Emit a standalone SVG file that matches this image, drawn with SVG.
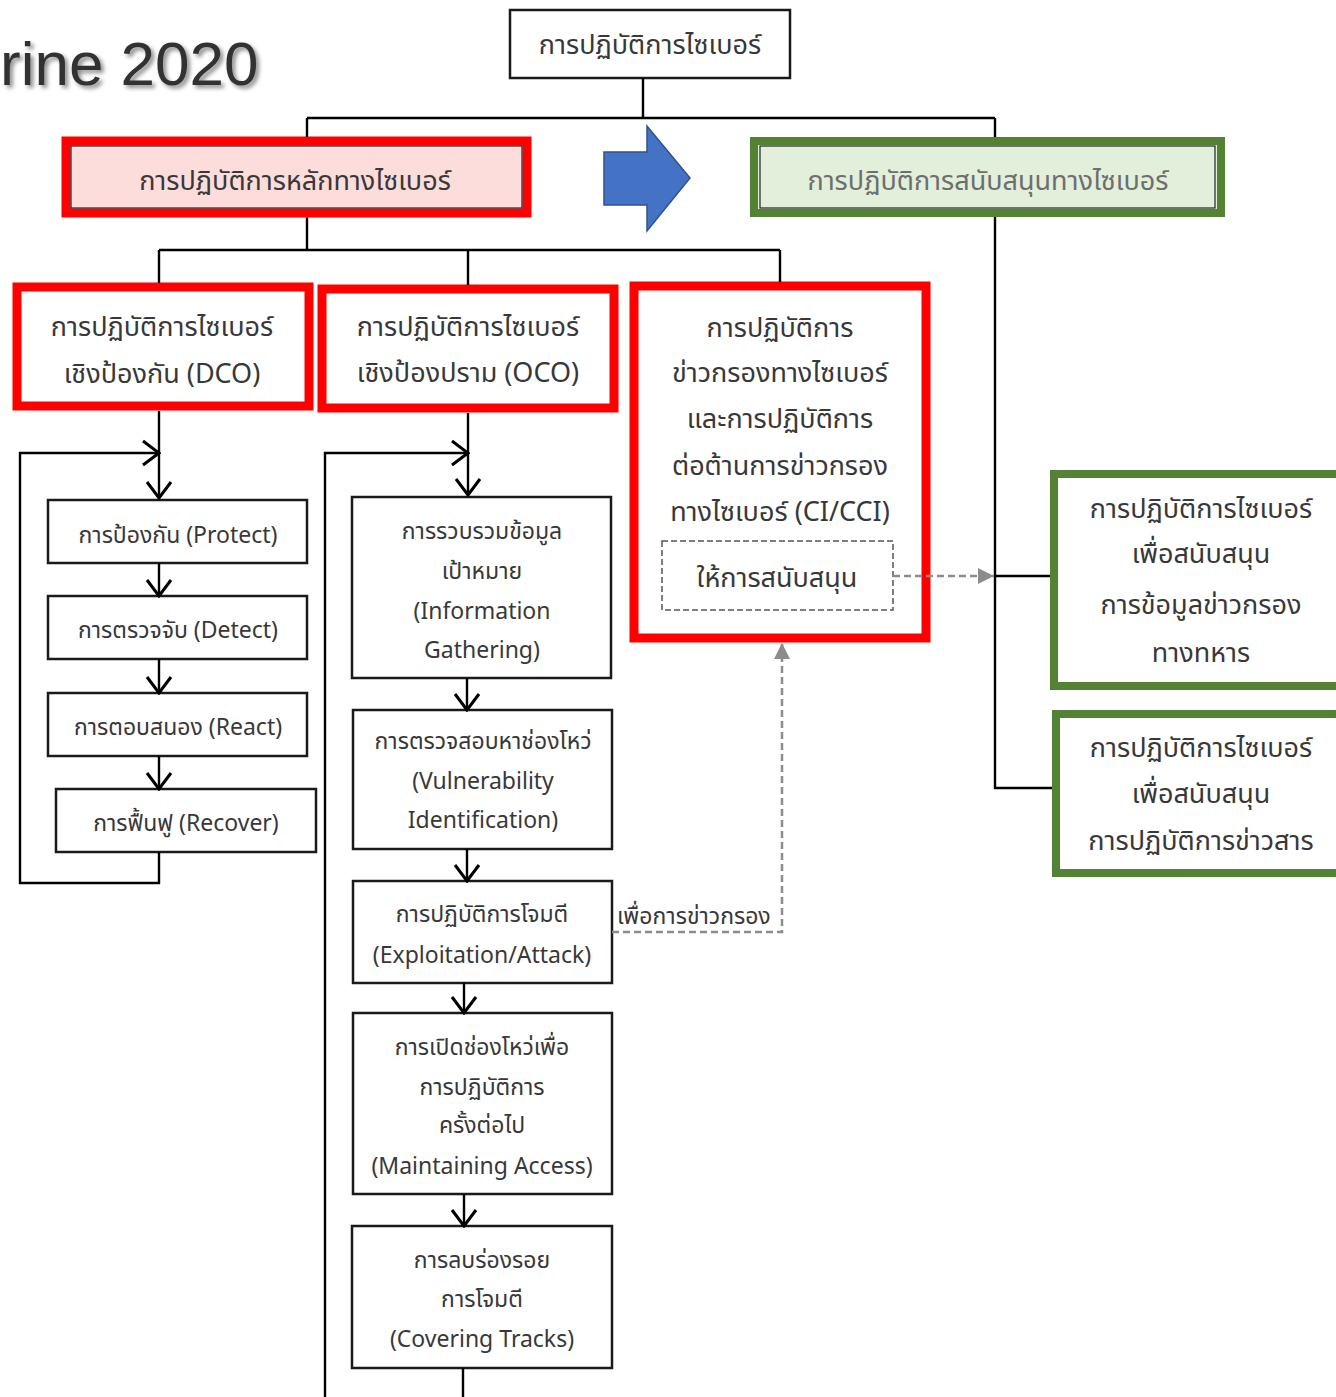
<svg xmlns="http://www.w3.org/2000/svg" width="1336" height="1397" viewBox="0 0 1336 1397">
  <defs>
    <marker id="open" viewBox="0 0 20 28" refX="18" refY="14" markerWidth="20" markerHeight="28" markerUnits="userSpaceOnUse" orient="auto">
      <path d="M2,2 L18,14 L2,26" fill="none" stroke="#000" stroke-width="3"/>
    </marker>
    <marker id="grayTri" viewBox="0 0 16 16" refX="16" refY="8" markerWidth="16" markerHeight="16" markerUnits="userSpaceOnUse" orient="auto">
      <path d="M0,0 L16,8 L0,16 Z" fill="#8c8c8c"/>
    </marker>
    <filter id="shadow" x="-10%" y="-20%" width="130%" height="150%">
      <feDropShadow dx="3" dy="3" stdDeviation="2" flood-color="#000" flood-opacity="0.45"/>
    </filter>
  </defs>
  <style>
    .t { font-family: "Noto Sans Thai", "Noto Sans", "DejaVu Sans", sans-serif; fill: #383838; text-anchor: middle; }
    .big { font-size: 27px; }
    .mid { font-size: 23px; }
    .box { fill: #fff; stroke: #1a1a1a; stroke-width: 2.5; }
    .redframe { fill: none; stroke: #ff0000; stroke-width: 9; }
    .thin { fill: none; stroke: #222; stroke-width: 1.2; }
    .line { fill: none; stroke: #000; stroke-width: 2.4; }
    .dash { fill: none; stroke: #8c8c8c; stroke-width: 2.5; stroke-dasharray: 7 4; }
  </style>

  <rect width="1336" height="1397" fill="#fff"/>

  <!-- heading fragment -->
  <text x="0" y="85" font-family="Liberation Sans, Arial, sans-serif" font-size="62" fill="#333" filter="url(#shadow)">rine 2020</text>

  <!-- root -->
  <g id="cyber-ops">
    <rect class="box" x="510" y="10" width="280" height="68"/>
    <text class="t big" x="650" y="54">การปฏิบัติการไซเบอร์</text>
  </g>

  <!-- core operations -->
  <g id="core-ops">
    <rect x="66" y="141" width="461" height="72" fill="#fddcdc" stroke="#ff0000" stroke-width="9"/>
    <rect class="thin" x="71" y="146" width="451" height="62"/>
    <text class="t big" x="295" y="190">การปฏิบัติการหลักทางไซเบอร์</text>
  </g>

  <!-- block arrow -->
  <g id="flow-arrow">
    <path d="M604,152 H647 V126 L690,178 L647,231 V205 H604 Z" fill="#4472c4" stroke="#2f528f" stroke-width="1.5"/>
  </g>

  <!-- support operations -->
  <g id="support-ops">
    <rect x="754" y="141" width="467" height="72" fill="#e2efda" stroke="#548235" stroke-width="8"/>
    <rect class="thin" x="760" y="146" width="455" height="62"/>
    <text class="t big" x="988" y="190" style="fill:#6e6e6e">การปฏิบัติการสนับสนุนทางไซเบอร์</text>
  </g>

  <!-- DCO -->
  <g id="dco">
    <rect class="box" x="18" y="288" width="290" height="117"/>
    <rect class="redframe" x="17" y="287" width="292" height="119"/>
    <text class="t big" x="162" y="336">การปฏิบัติการไซเบอร์</text>
    <text class="t big" x="162" y="383">เชิงป้องกัน (DCO)</text>
  </g>

  <!-- OCO -->
  <g id="oco">
    <rect class="box" x="323" y="290" width="290" height="117"/>
    <rect class="redframe" x="322" y="289" width="292" height="119"/>
    <text class="t big" x="468" y="336">การปฏิบัติการไซเบอร์</text>
    <text class="t big" x="468" y="382">เชิงป้องปราม (OCO)</text>
  </g>

  <!-- CI/CCI -->
  <g id="ci-cci">
    <rect class="box" x="635" y="287" width="290" height="350"/>
    <rect class="redframe" x="634" y="286" width="292" height="352"/>
    <text class="t big" x="780" y="337">การปฏิบัติการ</text>
    <text class="t big" x="780" y="382">ข่าวกรองทางไซเบอร์</text>
    <text class="t big" x="780" y="428">และการปฏิบัติการ</text>
    <text class="t big" x="780" y="475">ต่อต้านการข่าวกรอง</text>
    <text class="t big" x="780" y="521">ทางไซเบอร์ (CI/CCI)</text>
    <rect x="662" y="541" width="231" height="69" fill="none" stroke="#555" stroke-width="1.5" stroke-dasharray="6 3"/>
    <text class="t big" x="777" y="587">ให้การสนับสนุน</text>
  </g>

  <!-- support: military intelligence -->
  <g id="support-intel">
    <rect x="1054" y="474" width="290" height="212" fill="#fff" stroke="#548235" stroke-width="8"/>
    <text class="t big" x="1201" y="518">การปฏิบัติการไซเบอร์</text>
    <text class="t big" x="1201" y="563">เพื่อสนับสนุน</text>
    <text class="t big" x="1201" y="614">การข้อมูลข่าวกรอง</text>
    <text class="t big" x="1201" y="662">ทางทหาร</text>
  </g>

  <!-- support: information operations -->
  <g id="support-io">
    <rect x="1056" y="714" width="290" height="159" fill="#fff" stroke="#548235" stroke-width="8"/>
    <text class="t big" x="1201" y="757">การปฏิบัติการไซเบอร์</text>
    <text class="t big" x="1201" y="803">เพื่อสนับสนุน</text>
    <text class="t big" x="1201" y="850">การปฏิบัติการข่าวสาร</text>
  </g>

  <!-- DCO steps -->
  <g id="protect">
    <rect class="box" x="48" y="500" width="259" height="63"/>
    <text class="t mid" x="178" y="543">การป้องกัน (Protect)</text>
  </g>
  <g id="detect">
    <rect class="box" x="48" y="596" width="259" height="63"/>
    <text class="t mid" x="178" y="638">การตรวจจับ (Detect)</text>
  </g>
  <g id="react">
    <rect class="box" x="48" y="693" width="259" height="63"/>
    <text class="t mid" x="178" y="735">การตอบสนอง (React)</text>
  </g>
  <g id="recover">
    <rect class="box" x="56" y="789" width="260" height="63"/>
    <text class="t mid" x="186" y="831">การฟื้นฟู (Recover)</text>
  </g>

  <!-- OCO steps -->
  <g id="info-gathering">
    <rect class="box" x="352" y="497" width="259" height="181"/>
    <text class="t mid" x="482" y="539">การรวบรวมข้อมูล</text>
    <text class="t mid" x="482" y="579">เป้าหมาย</text>
    <text class="t mid" x="482" y="619">(Information</text>
    <text class="t mid" x="482" y="658">Gathering)</text>
  </g>
  <g id="vulnerability">
    <rect class="box" x="353" y="710" width="259" height="139"/>
    <text class="t mid" x="483" y="749">การตรวจสอบหาช่องโหว่</text>
    <text class="t mid" x="483" y="789">(Vulnerability</text>
    <text class="t mid" x="483" y="828">Identification)</text>
  </g>
  <g id="exploitation">
    <rect class="box" x="353" y="881" width="259" height="102"/>
    <text class="t mid" x="482" y="922">การปฏิบัติการโจมตี</text>
    <text class="t mid" x="482" y="963">(Exploitation/Attack)</text>
  </g>
  <g id="maintaining-access">
    <rect class="box" x="353" y="1013" width="259" height="181"/>
    <text class="t mid" x="482" y="1055">การเปิดช่องโหว่เพื่อ</text>
    <text class="t mid" x="482" y="1095">การปฏิบัติการ</text>
    <text class="t mid" x="482" y="1133">ครั้งต่อไป</text>
    <text class="t mid" x="482" y="1174">(Maintaining Access)</text>
  </g>
  <g id="covering-tracks">
    <rect class="box" x="352" y="1226" width="260" height="142"/>
    <text class="t mid" x="482" y="1268">การลบร่องรอย</text>
    <text class="t mid" x="482" y="1307">การโจมตี</text>
    <text class="t mid" x="482" y="1347">(Covering Tracks)</text>
  </g>

  <!-- connectors, drawn over the frames -->
  <g id="connectors">
    <path class="line" d="M643,78 V118 M307,118 H995 M307,118 V137 M995,118 V137"/>
    <path class="line" d="M307,217.5 V250 M159,250 H780 M159,250 V283 M468,250 V285 M780,250 V282"/>
    <path class="line" d="M995,217 V788 H1052 M995,576 H1050"/>
    <!-- DCO cycle -->
    <path class="line" d="M159,411 V498" marker-end="url(#open)"/>
    <path class="line" d="M159,852 V883 H20 V453 H159" marker-end="url(#open)"/>
    <path class="line" d="M159,563 V596" marker-end="url(#open)"/>
    <path class="line" d="M159,659 V693" marker-end="url(#open)"/>
    <path class="line" d="M159,756 V789" marker-end="url(#open)"/>
    <!-- OCO chain -->
    <path class="line" d="M468,413 V495" marker-end="url(#open)"/>
    <path class="line" d="M325,1397 V453 H468" marker-end="url(#open)"/>
    <path class="line" d="M467,678 V710" marker-end="url(#open)"/>
    <path class="line" d="M467,849 V881" marker-end="url(#open)"/>
    <path class="line" d="M464,983 V1013" marker-end="url(#open)"/>
    <path class="line" d="M464,1194 V1226" marker-end="url(#open)"/>
    <path class="line" d="M463,1368 V1397"/>
    <!-- dashed links -->
    <path class="dash" d="M612,932 H782 V643" marker-end="url(#grayTri)"/>
    <path class="dash" d="M893,576 H994" marker-end="url(#grayTri)"/>
    <text class="t mid" x="617" y="924" style="text-anchor:start">เพื่อการข่าวกรอง</text>
  </g>
</svg>
